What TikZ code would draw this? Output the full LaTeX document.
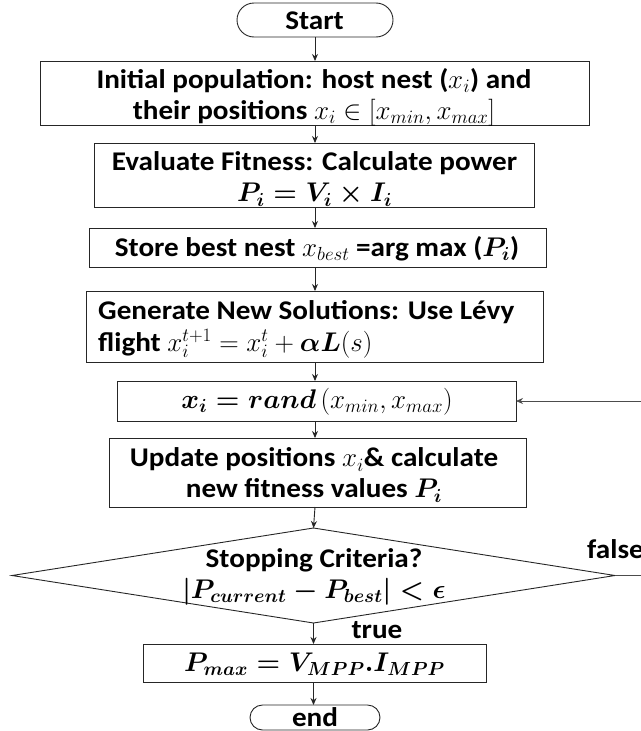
\RequirePackage{fix-cm}
\documentclass[tikz,border=0pt]{standalone}
\usepackage{fontspec}
\setmainfont{Carlito}[FakeStretch=1.08]
\usetikzlibrary{arrows.meta,shapes.geometric,shapes.misc}
\newcommand{\bmth}[1]{{\boldmath$#1$}}
\begin{document}
\begin{tikzpicture}[x=1pt,y=-1pt,
  line/.style={draw=black!85,line width=0.9pt},
  boxnode/.style={line, rectangle, inner sep=0pt, outer sep=0pt},
  pill/.style={line, rounded rectangle, inner sep=0pt, outer sep=0pt},
  txt/.style={font=\fontsize{27}{31}\selectfont\bfseries, align=center, inner sep=0pt},
  flow/.style={line, -{Stealth[length=7pt,width=6pt]}},
]
\useasboundingbox (0,0) rectangle (640,731);

% shapes
\node[pill, minimum width=156pt, minimum height=34pt] (start) at (315,20) {};
\node[boxnode, minimum width=549pt, minimum height=64pt] (init) at (314.5,93) {};
\node[boxnode, minimum width=440pt, minimum height=64pt] (eval) at (314,175) {};
\node[boxnode, minimum width=457pt, minimum height=39pt] (store) at (317.5,247.5) {};
\node[boxnode, minimum width=457pt, minimum height=71pt] (gen) at (314.5,326.5) {};
\node[boxnode, minimum width=399pt, minimum height=40pt] (rand) at (316.5,401) {};
\node[boxnode, minimum width=417pt, minimum height=69pt] (upd) at (317.5,472.5) {};
\node[line, diamond, minimum width=603pt, minimum height=95pt, inner sep=0pt, outer sep=0pt] (dec) at (313.5,575.5) {};
\node[boxnode, minimum width=343pt, minimum height=38pt] (pmax) at (314.5,663) {};
\node[pill, minimum width=130pt, minimum height=25pt] (end) at (315,717.5) {};

% texts
\node[txt] (tstart) at (314.5,21) {Start};
\node[txt] (tinit) at (314,97) {Initial population: host nest ($x_i$) and\\their positions $x_i \in [x_{min}, x_{max}]$};
\node[txt] (teval) at (314.5,179) {Evaluate Fitness: Calculate power\\\bmth{P_i = V_i \times I_i}};
\node[txt] (tstore) at (317,249) {Store best nest $x_{best}$ =arg max (\bmth{P_i})};
\node[txt, anchor=west, align=left] (tgen) at (98,329) {Generate New Solutions: Use Lévy\\[1pt]flight $x_i^{t+1} = x_i^t + {}$\bmth{\alpha L}$(s)$};
\node[txt] (trand) at (317,402) {\bmth{x_i = rand}\,$(x_{min}, x_{max})$};
\node[txt] (tupd) at (314,475) {Update positions $x_i$\&\ calculate\\new fitness values \bmth{P_i}};
\node[txt] (tdec) at (314,577) {Stopping Criteria?\\\bmth{|P_{current} - P_{best}| < \epsilon}};
\node[txt] (tpmax) at (314.5,664) {\bmth{P_{max} = V_{MPP}.I_{MPP}}};
\node[txt] (tend) at (315,717) {end};
\node[txt, anchor=west] (lfalse) at (587,549) {false};
\node[txt] (ltrue) at (377,630) {true};

% connectors
\draw[flow] (start.south) -- (start.south |- init.north);
\draw[flow] (init.south -| start.south) -- (start.south |- eval.north);
\draw[flow] (eval.south -| start.south) -- (start.south |- store.north);
\draw[flow] (store.south -| start.south) -- (start.south |- gen.north);
\draw[flow] (gen.south -| start.south) -- (start.south |- rand.north);
\draw[flow] (rand.south -| start.south) -- (start.south |- upd.north);
\draw[flow] (upd.south -| start.south) -- (dec.north);
\draw[flow] (dec.south) -- (dec.south |- pmax.north);
\draw[flow] (pmax.south -| dec.south) -- (dec.south |- end.north);
\draw[flow, draw=black!70, line width=0.7pt] (dec.east) -- ++(45,0) |- (rand.east);
\end{tikzpicture}
\end{document}
